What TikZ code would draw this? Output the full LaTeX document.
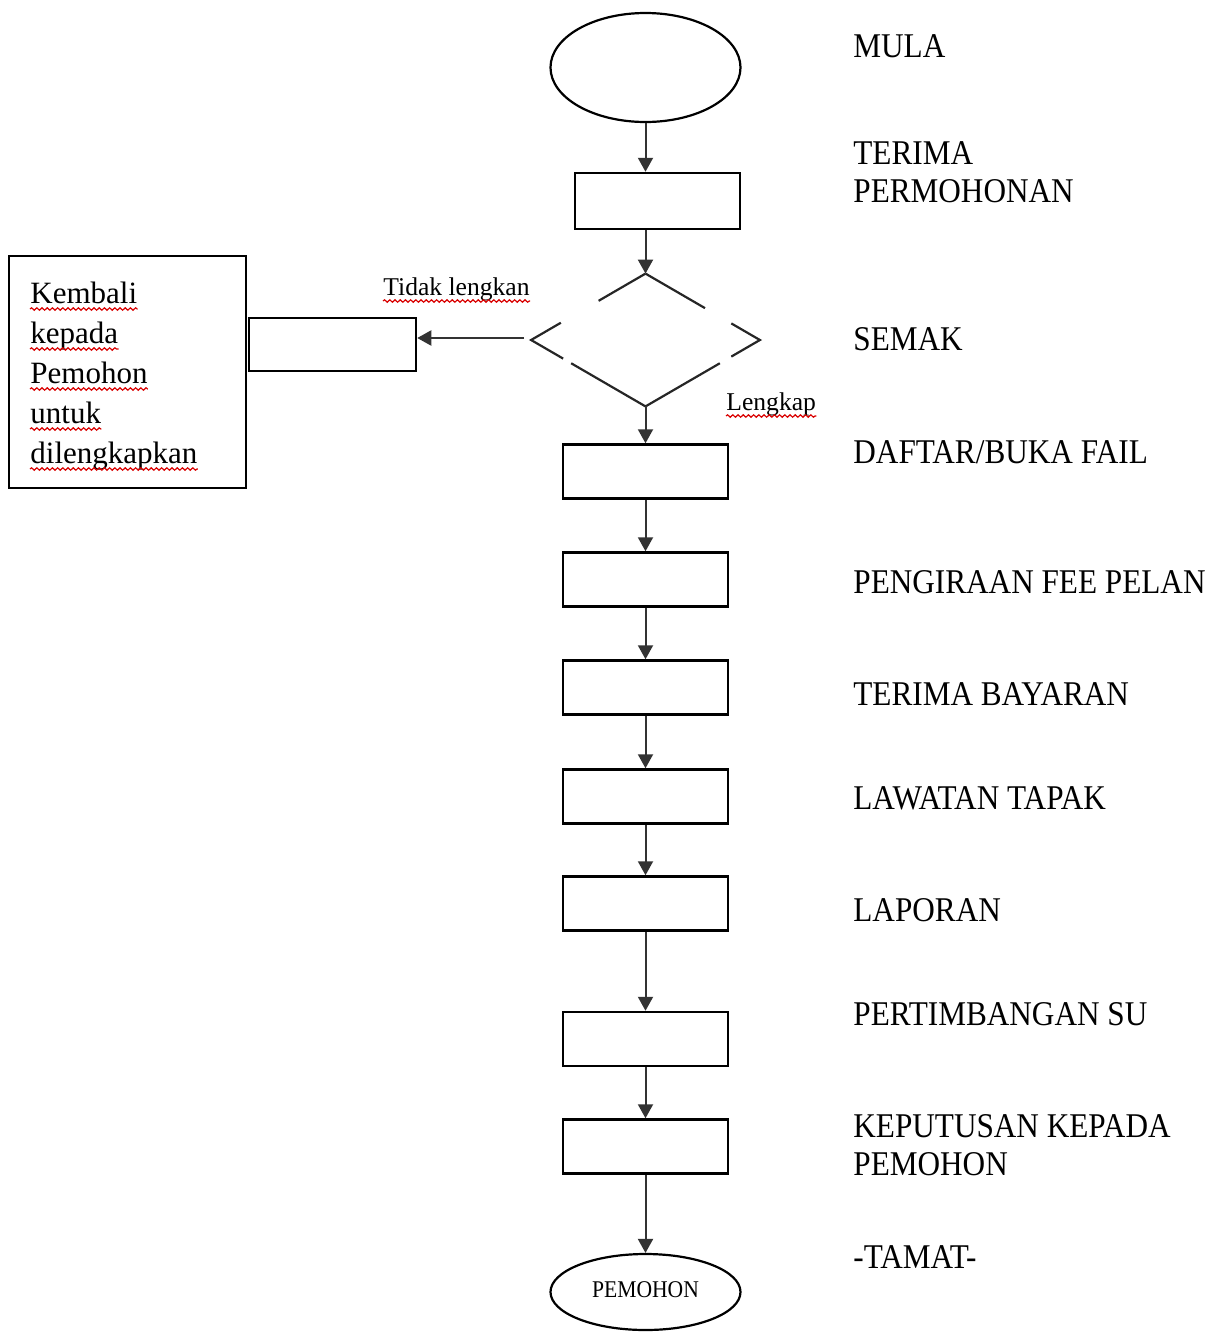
\documentclass[tikz,border=0pt]{standalone}
\usepackage{fontspec}
\setmainfont{Liberation Serif}[FakeStretch=0.9]
\newfontfamily\plainserif{Liberation Serif}
\usetikzlibrary{shapes.geometric,arrows.meta,calc,decorations.pathmorphing}
\tikzset{
  boxnode/.style={draw=black, line width=1.25pt, rectangle, minimum width=82.5pt, minimum height=27pt, inner sep=0pt},
  ovalnode/.style={draw=black, line width=1.1pt, ellipse, minimum width=95pt, inner sep=0pt},
  conn/.style={draw=black!80, line width=1pt, -{Triangle[length=7pt,width=7.5pt]}},
  dline/.style={draw=black!85, line width=1.1pt},
  lbl/.style={anchor=base west, inner sep=0pt, font=\fontsize{17.35pt}{19pt}\selectfont},
  lword/.style={anchor=base west, inner sep=0pt, font=\plainserif\fontsize{15.5pt}{18pt}\selectfont},
  smallword/.style={anchor=base west, inner sep=0pt, font=\plainserif\fontsize{12.8pt}{15pt}\selectfont},
  wavy/.style={draw=red!85!black, line width=0.6pt, decorate, decoration={snake, amplitude=0.6pt, segment length=2.6pt}}
}
\begin{document}
\begin{tikzpicture}[x=0.5pt,y=-0.5pt]
\useasboundingbox (0,0) rectangle (1214,1334);

% main column
\node[ovalnode, minimum height=54.5pt] (start) at (645.5,67.5) {};
\node[boxnode, minimum height=28pt] (b1) at (657.5,201) {};
\node[draw=none, rectangle, minimum width=114pt, minimum height=66pt, inner sep=0pt] (semak) at (645.5,340) {};
\node[boxnode] (b2) at (645.5,471.5) {};
\node[boxnode] (b3) at (645.5,579.5) {};
\node[boxnode] (b4) at (645.5,687.5) {};
\node[boxnode] (b5) at (645.5,796.5) {};
\node[boxnode] (b6) at (645.5,903.5) {};
\node[boxnode] (b7) at (645.5,1039) {};
\node[boxnode] (b8) at (645.5,1146.5) {};
\node[ovalnode, minimum height=38pt, font=\fontsize{12pt}{14pt}\selectfont] (end) at (645.5,1292) {\raisebox{2pt}{PEMOHON}};

% broken diamond (SEMAK)
\draw[dline] (semak.north) -- ($(semak.north)!0.41!(semak.west)$);
\draw[dline] ($(semak.north)!0.74!(semak.west)$) -- (semak.west) -- ($(semak.west)!0.28!(semak.south)$);
\draw[dline] ($(semak.west)!0.35!(semak.south)$) -- (semak.south) -- ($(semak.south)!0.65!(semak.east)$);
\draw[dline] ($(semak.east)!0.25!(semak.south)$) -- (semak.east) -- ($(semak.east)!0.25!(semak.north)$);
\draw[dline] ($(semak.north)!0.52!(semak.east)$) -- (semak.north);

% left boxes
\node[boxnode, minimum width=118.5pt, minimum height=116pt] (kb) at (127.5,372) {};
\node[boxnode, minimum width=83.5pt, minimum height=26.5pt] (sb) at (332.5,344.5) {};

% connectors
\draw[conn] (start.south) -- (start.south |- b1.north);
\draw[conn] (semak.north |- b1.south) -- (semak.north);
\draw[conn] (semak.south) -- (b2.north);
\draw[conn] (b2.south) -- (b3.north);
\draw[conn] (b3.south) -- (b4.north);
\draw[conn] (b4.south) -- (b5.north);
\draw[conn] (b5.south) -- (b6.north);
\draw[conn] (b6.south) -- (b7.north);
\draw[conn] (b7.south) -- (b8.north);
\draw[conn] (b8.south) -- (end.north);
\draw[conn, shorten <=3.5pt] ([yshift=1pt]semak.west) -- ([yshift=1pt]semak.west -| sb.east);

% right labels
\node[lbl] (l1) at (853,57) {MULA};
\node[lbl] (l2) at (853,164) {\begin{tabular}[t]{@{}l@{}}TERIMA\\PERMOHONAN\end{tabular}};
\node[lbl] (l3) at (853,350) {SEMAK};
\node[lbl] (l4) at (853,463) {DAFTAR/BUKA FAIL};
\node[lbl] (l5) at (853,593) {PENGIRAAN FEE PELAN};
\node[lbl] (l6) at (853,705) {TERIMA BAYARAN};
\node[lbl] (l7) at (853,809) {LAWATAN TAPAK};
\node[lbl] (l8) at (853,921) {LAPORAN};
\node[lbl] (l9) at (853,1025) {PERTIMBANGAN SU};
\node[lbl] (l10) at (853,1137) {\begin{tabular}[t]{@{}l@{}}KEPUTUSAN KEPADA\\PEMOHON\end{tabular}};
\node[lbl] (l11) at (853,1268) {-TAMAT-};

% left box text
\node[lword] (k1) at (30,303) {Kembali};
\node[lword] (k2) at (30,343) {kepada};
\node[lword] (k3) at (30,383) {Pemohon};
\node[lword] (k4) at (30,423) {untuk};
\node[lword] (k5) at (30,463) {dilengkapkan};

% branch labels
\node[smallword] (tl) at (383,295) {Tidak lengkan};
\node[smallword] (lk) at (726,410) {Lengkap};

% spell-check wavy underlines
\foreach \n in {k1,k2,k3,k4,k5,tl,lk}{
  \draw[wavy] ([yshift=-3pt]\n.base west) -- ([yshift=-3pt]\n.base east);
}
\end{tikzpicture}
\end{document}
